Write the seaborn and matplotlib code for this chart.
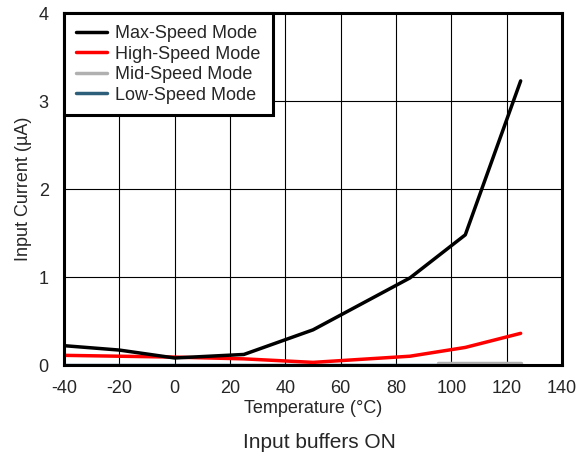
import pandas as pd
import matplotlib
matplotlib.use("Agg")
import matplotlib.pyplot as plt
import seaborn as sns

# data
temp = [-40, -20, 0, 25, 50, 85, 105, 125]
max_speed = [0.22, 0.17, 0.08, 0.12, 0.40, 0.99, 1.48, 3.23]
high_speed = [0.11, 0.10, 0.09, 0.07, 0.03, 0.10, 0.20, 0.36]
mid_temp = [95, 105, 125]
mid_speed = [0.02, 0.02, 0.02]
low_speed = [0.0, 0.0, 0.0, 0.0, 0.0, 0.0, 0.0, 0.0]

sns.set_style("white")
plt.rcParams['font.family'] = ['Liberation Sans', 'DejaVu Sans']
plt.rcParams['axes.unicode_minus'] = False

fig = plt.figure(figsize=(5.76, 4.54), dpi=100)
ax = fig.add_axes([0.111, 0.196, 0.865, 0.775])

sns.lineplot(x=temp, y=max_speed, ax=ax, color='black', lw=2.5, label='Max-Speed Mode', zorder=4)
sns.lineplot(x=temp, y=high_speed, ax=ax, color='#ff0000', lw=2.5, label='High-Speed Mode', zorder=3)
sns.lineplot(x=mid_temp, y=mid_speed, ax=ax, color='#b0b0b0', lw=2.5, label='Mid-Speed Mode', zorder=2)
sns.lineplot(x=temp, y=low_speed, ax=ax, color='#2e5f7a', lw=2.5, label='Low-Speed Mode', zorder=1)

ax.set_xlim(-40, 140)
ax.set_ylim(0, 4)
ax.set_xticks(range(-40, 141, 20))
ax.set_yticks([0, 1, 2, 3, 4])
ax.grid(True, color='black', lw=0.8)
ax.set_axisbelow(True)
for s in ax.spines.values():
    s.set_linewidth(2.2)
    s.set_color('black')
    s.set_zorder(5)
ax.tick_params(axis='x', labelsize=13, length=0, pad=11)
ax.tick_params(axis='y', labelsize=13, length=0, pad=11)
ax.set_xlabel('Temperature (°C)', fontsize=13, labelpad=2)
ax.set_ylabel('Input Current (µA)', fontsize=13, labelpad=5)

leg = ax.legend(loc='upper left', fontsize=13, frameon=True, fancybox=False,
                borderaxespad=0, handlelength=1.75, labelspacing=0.2,
                borderpad=0.65, handletextpad=0.45)
leg.get_frame().set_edgecolor('black')
leg.get_frame().set_linewidth(2.2)
leg.get_frame().set_alpha(1)

fig.text(0.555, 0.026, 'Input buffers ON', ha='center', va='center', fontsize=15)

fig.savefig('out.png', dpi=100)
